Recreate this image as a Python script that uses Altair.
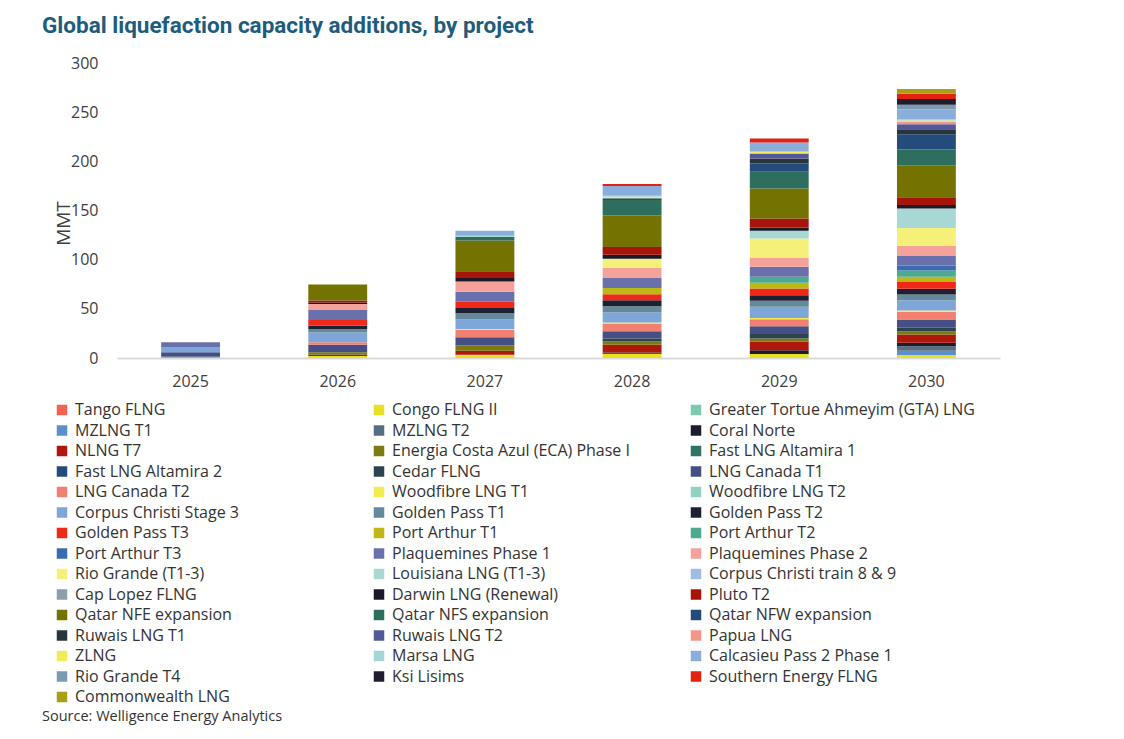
import altair as alt
import pandas as pd

years = ["2025", "2026", "2027", "2028", "2029", "2030"]

projects = [
    "Tango FLNG", "Congo FLNG II", "Greater Tortue Ahmeyim (GTA) LNG",
    "MZLNG T1", "MZLNG T2", "Coral Norte",
    "NLNG T7", "Energia Costa Azul (ECA) Phase I", "Fast LNG Altamira 1",
    "Fast LNG Altamira 2", "Cedar FLNG", "LNG Canada T1",
    "LNG Canada T2", "Woodfibre LNG T1", "Woodfibre LNG T2",
    "Corpus Christi Stage 3", "Golden Pass T1", "Golden Pass T2",
    "Golden Pass T3", "Port Arthur T1", "Port Arthur T2",
    "Port Arthur T3", "Plaquemines Phase 1", "Plaquemines Phase 2",
    "Rio Grande (T1-3)", "Louisiana LNG (T1-3)", "Corpus Christi train 8 & 9",
    "Cap Lopez FLNG", "Darwin LNG (Renewal)", "Pluto T2",
    "Qatar NFE expansion", "Qatar NFS expansion", "Qatar NFW expansion",
    "Ruwais LNG T1", "Ruwais LNG T2", "Papua LNG",
    "ZLNG", "Marsa LNG", "Calcasieu Pass 2 Phase 1",
    "Rio Grande T4", "Ksi Lisims", "Southern Energy FLNG",
    "Commonwealth LNG",
]

colors = [
    "#F26452", "#E8E020", "#7CC8B0",
    "#5B8FD0", "#556F80", "#1C1C30",
    "#B0170C", "#7C7A10", "#2F7565",
    "#234C7A", "#2C4450", "#454F86",
    "#F28070", "#F2EC50", "#92D0C0",
    "#7EA6D8", "#64899A", "#1E2034",
    "#F02818", "#BDB814", "#4BAA90",
    "#3A6CAE", "#6A70AC", "#F5A39A",
    "#F5F07A", "#A8D8D4", "#A0BCE4",
    "#8AA0AC", "#1A1A26", "#A8140A",
    "#747200", "#2E6E5E", "#234C7A",
    "#26363C", "#52589A", "#F4958A",
    "#F2EA58", "#A4D4D4", "#8AAEDC",
    "#7D9BB0", "#1E1E30", "#E42010",
    "#A8A014",
]

# Values (MMT) per project, in the order of `projects`
v2025 = [0, 0, 1.3, 0, 0, 0, 0, 0, 0, 0, 0, 4.5, 0, 0, 0, 5, 0, 0, 0, 0, 0, 0, 5.3, 0,
         0, 0, 0, 0, 0, 0, 0, 0, 0, 0, 0, 0, 0, 0, 0, 0, 0, 0, 0]
v2026 = [0, 2, 0, 0, 0, 0, 1.3, 2.5, 0, 0, 0, 7.8, 2.4, 0, 0, 10, 3.5, 3.4, 5.8, 0, 0, 0, 10.5, 5.8,
         0, 0, 0, 0, 1.4, 2, 16.3, 0, 0, 0, 0, 0, 0, 0, 0, 0, 0, 0, 0]
v2027 = [0, 3.4, 0, 0, 0, 0, 4.1, 5.1, 0, 0, 0, 8.5, 7.5, 1, 0, 9.5, 6.4, 5.4, 6.4, 0, 0, 0, 10.2, 10.2,
         0, 0, 0, 0, 3.7, 6.8, 31.2, 4, 0, 0, 0, 0, 0, 1, 5, 0, 0, 0, 0]
v2028 = [0, 4.3, 0, 0, 0, 1.3, 7.8, 3.4, 0, 0, 3, 7.5, 7.8, 1, 0, 10.2, 6.4, 6.1, 6.1, 6.4, 0, 0, 10, 10.2,
         9.5, 0, 0, 0, 4, 7.8, 32, 16, 1.7, 0, 0, 0, 1.5, 1, 10, 0, 0, 2, 0]
v2029 = [0, 4, 0, 0, 0, 4, 8.5, 3.4, 0, 0, 4.4, 8.1, 7.1, 1.3, 0, 11.2, 6.1, 5.8, 6.8, 5.8, 6.1, 0, 10.2, 9.5,
         19.3, 7.8, 0, 0, 3.4, 9.1, 30.5, 17, 8.5, 5, 5, 0, 1.5, 1.2, 8.5, 0, 0, 4, 0]
v2030 = [0, 3, 0, 4.5, 4.5, 3.4, 8.5, 3.4, 0, 0, 3.4, 8.5, 7.8, 1.3, 0, 10.5, 5.8, 5.8, 6.8, 5.4, 6.5, 5, 10.2, 9.8,
         18, 20, 0, 0, 3.4, 8.1, 32.5, 16, 15.5, 5, 5, 2.5, 1.5, 1.5, 9.5, 5, 5.8, 5.4, 4.7]

source_note = ["Source: Welligence Energy Analytics"]

rows = []
for yr, vals in zip(years, [v2025, v2026, v2027, v2028, v2029, v2030]):
    for i, (p, v) in enumerate(zip(projects, vals)):
        if v > 0:
            rows.append({"year": yr, "project": p, "idx": i, "value": v})
df = pd.DataFrame(rows)

FONT = "Open Sans"

bars = alt.Chart(df).mark_bar().encode(
    x=alt.X("year:N", sort=years,
            scale=alt.Scale(paddingInner=0.6, paddingOuter=0.3),
            axis=alt.Axis(title=None, labelAngle=0, ticks=False, domain=True,
                          domainColor="#D9D9D9", domainWidth=2,
                          labelFontSize=16, labelColor="#404040", labelFont=FONT,
                          labelPadding=15)),
    y=alt.Y("value:Q", stack="zero",
            scale=alt.Scale(domain=[0, 300]),
            axis=alt.Axis(title="MMT", values=[0, 50, 100, 150, 200, 250, 300],
                          grid=False, ticks=False, domain=False,
                          labelFontSize=16, labelColor="#404040", labelFont=FONT,
                          labelPadding=19,
                          titleFontSize=19, titleFontWeight="normal", titleColor="#404040",
                          titleFont=FONT, titleX=-44, titleY=160, titleAngle=-90)),
    color=alt.Color("project:N", sort=projects,
                    scale=alt.Scale(domain=projects, range=colors),
                    legend=alt.Legend(title=None, orient="none", legendX=-63, legendY=339,
                                      direction="horizontal", columns=3, gridAlign="all",
                                      columnPadding=30, rowPadding=4.5, symbolLimit=0,
                                      symbolType="square", symbolSize=110,
                                      symbolStrokeWidth=0, labelFontSize=16,
                                      labelFont=FONT, labelColor="#333333",
                                      labelOffset=5, labelLimit=400, padding=0)),
    order=alt.Order("idx:Q", sort="ascending"),
)

note = alt.Chart(pd.DataFrame({"note": source_note})).mark_text(
    align="left", baseline="middle", fontSize=14.5, font=FONT, color="#333333"
).encode(
    x=alt.value(-75), y=alt.value(654), text="note:N"
)

chart = alt.layer(bars, note).properties(
    width=883, height=295,
    padding={"left": 109, "top": 55, "right": 100, "bottom": 380},
    autosize=alt.AutoSizeParams(type="none"),
    title=alt.TitleParams(
        "Global liquefaction capacity additions, by project",
        anchor="start", frame="group", dx=-75, dy=-14, fontSize=22.5, font="Roboto",
        fontWeight="bold", color="#1D5C7C",
    ),
).configure_view(stroke=None)

chart.save("out.html", embed_options={"renderer": "svg", "actions": False})
